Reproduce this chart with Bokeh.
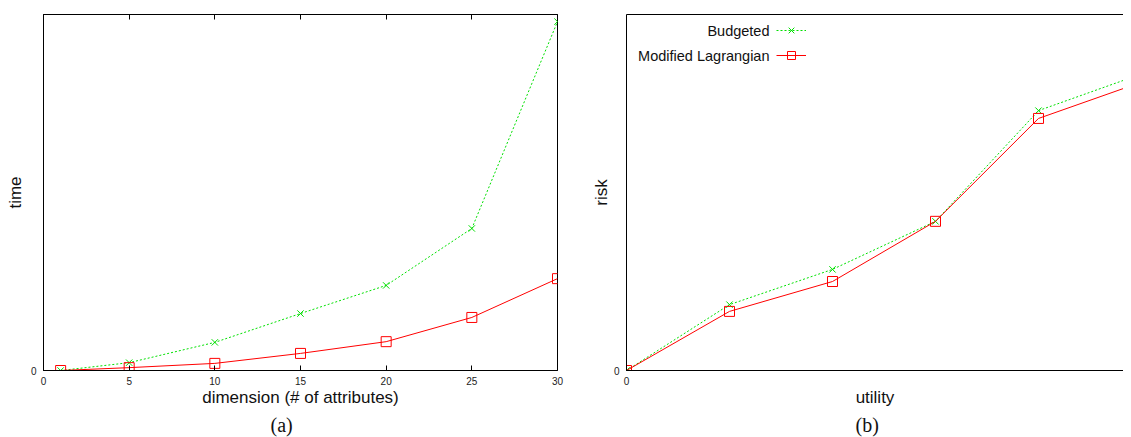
from bokeh.plotting import figure
from bokeh.models import (FixedTicker, LinearAxis, Legend, LegendItem, Title,
                          Range1d, Label)
from bokeh.layouts import row
from bokeh.core.properties import value
from bokeh.embed import file_html
from bokeh.resources import INLINE

# ---------------- data ----------------
dimension = [1, 5, 10, 15, 20, 25, 30]
time_budgeted = [0.0, 2.2, 7.9, 16.0, 23.9, 39.9, 98.0]
time_lagrangian = [0.0, 0.8, 2.0, 4.8, 8.1, 14.9, 25.8]

utility = [0, 1, 2, 3, 4, 5]
risk_budgeted = [0.0, 18.5, 28.4, 41.9, 73.0, 83.3]
risk_lagrangian = [0.0, 16.6, 25.0, 41.9, 70.8, 81.0]

dim_ticks = [0, 5, 10, 15, 20, 25, 30]
zero_ticks = [0]
series_names = ["Budgeted", "Modified Lagrangian"]
panel_captions = ["(a)", "(b)"]

GREEN = "#00e000"
RED = "#ff0000"
SANS = "Liberation Sans"
SERIF = "Liberation Serif"
H = 437


def style_axis(ax, label_size="10px"):
    ax.axis_line_color = "black"
    ax.axis_line_width = 1
    ax.major_tick_in = 5
    ax.major_tick_out = 0
    ax.minor_tick_line_color = None
    ax.major_tick_line_color = "black"
    ax.major_label_text_font = SANS
    ax.major_label_text_font_size = label_size
    ax.major_label_text_color = "#222222"
    ax.axis_label_text_font = SANS
    ax.axis_label_text_font_size = "17px"
    ax.axis_label_text_font_style = "normal"
    ax.axis_label_text_color = "#111111"


def hidden_axis(ticks):
    ax = LinearAxis(ticker=FixedTicker(ticks=ticks))
    ax.axis_line_color = "black"
    ax.axis_line_width = 1
    ax.major_tick_in = 5
    ax.major_tick_out = 0
    ax.minor_tick_line_color = None
    ax.major_label_text_color = None
    ax.major_label_text_font_size = "1px"
    ax.major_label_standoff = 0
    return ax


def caption(text, offset):
    return Title(text=text, align="left", offset=offset, text_font=SERIF,
                 text_font_size="20px", text_font_style="normal",
                 text_color="#111111", standoff=4)


def add_series(p, x, y_green, y_red):
    gl = p.line(x, y_green, line_color=GREEN, line_width=1, line_dash="2 2")
    gm = p.scatter(x, y_green, marker="x", size=9, line_color=GREEN, line_width=1)
    rl = p.line(x, y_red, line_color=RED, line_width=1)
    rm = p.scatter(x, y_red, marker="square", size=10, line_color=RED,
                   fill_color=None, line_width=1)
    return gl, gm, rl, rm


# ---------------- panel (a) ----------------
pa = figure(width=580, height=H, output_backend="svg", toolbar_location=None,
            x_range=Range1d(0, 30), y_range=Range1d(0, 100),
            min_border_left=43, min_border_right=23,
            min_border_top=14, min_border_bottom=H - 14 - 356)
pa.xgrid.grid_line_color = None
pa.ygrid.grid_line_color = None
pa.outline_line_color = "black"
pa.outline_line_width = 1
pa.background_fill_color = "white"
pa.border_fill_color = "white"

xa = pa.xaxis[0]
xa.ticker = FixedTicker(ticks=dim_ticks)
style_axis(xa)
xa.axis_label = "dimension (# of attributes)"
xa.major_label_standoff = 6
xa.axis_label_standoff = 0

ya = pa.yaxis[0]
ya.ticker = FixedTicker(ticks=zero_ticks)
style_axis(ya)
ya.axis_label = "time"
ya.major_label_standoff = 7
ya.axis_label_standoff = 3

pa.add_layout(hidden_axis(dim_ticks), "above")
add_series(pa, dimension, time_budgeted, time_lagrangian)
pa.add_layout(caption(panel_captions[0], 227), "below")

# ---------------- panel (b) ----------------
WB = 543
pb = figure(width=WB, height=H, output_backend="svg", toolbar_location=None,
            x_range=Range1d(0, (WB - 46) / 103), y_range=Range1d(0, 100),
            min_border_left=46, min_border_right=0,
            min_border_top=14, min_border_bottom=H - 14 - 356)
pb.xgrid.grid_line_color = None
pb.ygrid.grid_line_color = None
pb.outline_line_color = None
pb.background_fill_color = "white"
pb.border_fill_color = "white"

xb = pb.xaxis[0]
xb.ticker = FixedTicker(ticks=zero_ticks)
style_axis(xb)
xb.axis_label = "utility"
xb.major_label_standoff = 6
xb.axis_label_standoff = 0

yb = pb.yaxis[0]
yb.ticker = FixedTicker(ticks=zero_ticks)
style_axis(yb)
yb.axis_label = "risk"
yb.major_label_standoff = 7
yb.axis_label_standoff = 0

pb.add_layout(hidden_axis([]), "above")
gl, gm, rl, rm = add_series(pb, utility, risk_budgeted, risk_lagrangian)

legend = Legend(items=[LegendItem(label=value(""), renderers=[gl, gm]),
                       LegendItem(label=value(""), renderers=[rl, rm])],
                location=(150, 305), orientation="vertical",
                glyph_width=30, glyph_height=20, label_height=20,
                label_width=0, label_standoff=0, spacing=5, padding=0, margin=0,
                label_text_color=RED, label_text_font_size="1px",
                border_line_color=None, background_fill_color=None)
pb.add_layout(legend)

for name, yy in zip(series_names, [340, 315]):
    pb.add_layout(Label(x=143, y=yy, x_units="screen", y_units="screen",
                        text=name, text_align="right", text_baseline="middle",
                        text_font=SANS, text_font_size="14.5px",
                        text_color="#111111"))

pb.add_layout(caption(panel_captions[1], 229), "below")

layout = row(pa, pb)
open("out.html", "w").write(file_html(layout, INLINE))
